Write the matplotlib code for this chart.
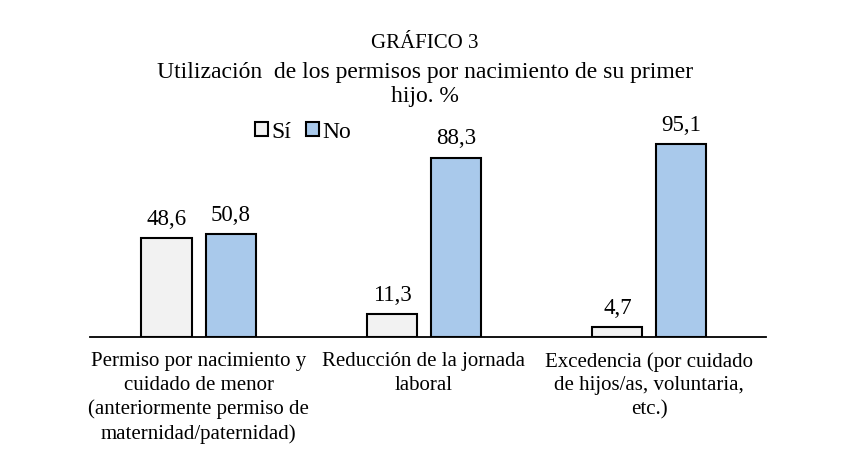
import matplotlib
matplotlib.use("Agg")
import matplotlib.pyplot as plt
import numpy as np

# datos del gráfico
categorias = ["Permiso por nacimiento y\ncuidado de menor\n(anteriormente permiso de\nmaternidad/paternidad)",
              "Reducción de la jornada\nlaboral",
              "Excedencia (por cuidado\nde hijos/as, voluntaria,\netc.)"]
valores_si = [48.6, 11.3, 4.7]
valores_no = [50.8, 88.3, 95.1]
series = ["Sí", "No"]

plt.rcParams['font.family'] = ['Liberation Serif', 'DejaVu Serif']

fig = plt.figure(figsize=(8.56, 4.62), dpi=100)
ax = fig.add_axes([0.105, 0.2706, 0.79, 0.4394])

x = np.arange(len(categorias))
ancho = 0.222
desp = 0.142

b1 = ax.bar(x - desp, valores_si, ancho, color="#F2F2F2", edgecolor="black", linewidth=1.5, label=series[0])
b2 = ax.bar(x + desp, valores_no, ancho, color="#A9C9EB", edgecolor="black", linewidth=1.5, label=series[1])

for barras in (b1, b2):
    for b in barras:
        ax.annotate(f"{b.get_height():.1f}".replace(".", ","),
                    (b.get_x() + b.get_width() / 2, b.get_height()),
                    xytext=(0, 6), textcoords="offset points",
                    ha="center", va="bottom", fontsize=16.5)

ax.set_xlim(-0.482, 2.518)
ax.set_ylim(0, 100)
ax.set_xticks(x)
ax.set_xticklabels(categorias, fontsize=15, linespacing=1.32)
ax.tick_params(axis="x", length=0, pad=11)
ax.set_yticks([])
for s in ["top", "right", "left"]:
    ax.spines[s].set_visible(False)
ax.spines["bottom"].set_linewidth(1.3)

fig.text(0.4965, 1 - 43 / 462, "GRÁFICO 3", ha="center", va="center", fontsize=15)
fig.text(0.4965, 1 - 84.5 / 462, "Utilización  de los permisos por nacimiento de su primer\nhijo. %",
         ha="center", va="center", fontsize=17, linespacing=1.23)

ax.legend(loc="center", bbox_to_anchor=(303 / 856, 1 - 132 / 462), bbox_transform=fig.transFigure,
          ncol=2, frameon=False, fontsize=17, handlelength=0.55, handleheight=0.55,
          handletextpad=0.15, columnspacing=0.6, borderpad=0)

plt.savefig("out.png", dpi=100)
